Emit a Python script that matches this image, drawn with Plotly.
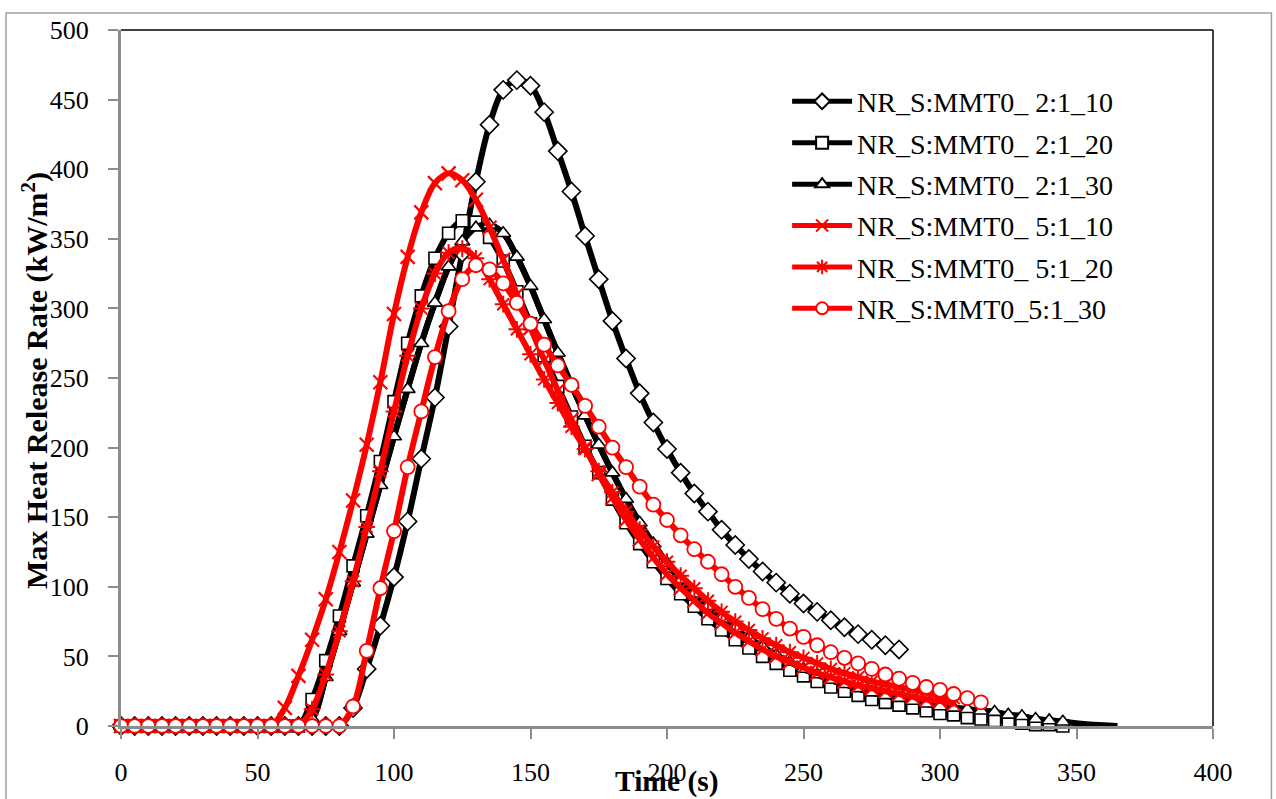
import plotly.graph_objects as go

# ---- data (time in s, HRR in kW/m2) ----
t_a = list(range(0, 290, 5))
hrr_a = [0]*17 + [13, 41, 72, 107, 147, 192, 236, 287, 340, 391, 432, 457, 464, 460, 441, 413, 384, 352,
                  321, 291, 264, 239, 218, 199, 182, 167, 154, 141, 130, 120, 111, 103, 95, 88, 82, 76,
                  71, 66, 62, 58, 55]

t_b = list(range(0, 350, 5))
hrr_b = [0]*14 + [19, 47, 79, 115, 151, 190, 233, 275, 309, 336, 354, 363, 362, 351, 334, 312, 289, 266,
                  244, 222, 201, 182, 163, 146, 131, 118, 106, 95, 86, 77, 69, 62, 56, 50, 45, 40, 36,
                  32, 28, 25, 22, 19, 17, 15, 13, 11, 9, 8, 6, 5, 4, 3, 2, 1, 1, 0]

t_c = list(range(0, 370, 5))
hrr_c = [0]*14 + [5, 35, 68, 103, 138, 173, 208, 242, 275, 304, 330, 348, 358, 360, 354, 337, 316, 292,
                  268, 245, 223, 202, 182, 163, 146, 131, 117, 105, 95, 86, 77, 70, 63, 57, 51, 46, 41,
                  37, 33, 30, 27, 24, 22, 20, 18, 16, 14, 13, 12, 11, 10, 8, 7, 5, 4, 3, 2, 1, 0.5, 0]
last_marker_c = 345

t_d = list(range(0, 310, 5))
hrr_d = [0]*12 + [13, 36, 62, 91, 125, 162, 202, 247, 296, 337, 369, 390, 397, 392, 378, 358, 335, 310,
                  286, 263, 241, 220, 200, 181, 164, 148, 134, 121, 109, 99, 90, 81, 74, 67, 61, 55, 50,
                  46, 42, 38, 35, 32, 29, 27, 25, 23, 21, 19, 18, 16]

t_e = list(range(0, 310, 5))
hrr_e = [0]*14 + [12, 37, 68, 104, 143, 183, 226, 266, 300, 325, 340, 343, 336, 321, 303, 285, 267, 249,
                  232, 215, 199, 183, 168, 154, 141, 129, 118, 108, 99, 90, 82, 75, 69, 63, 58, 53, 49,
                  45, 41, 38, 35, 32, 30, 28, 26, 24, 22, 20]

t_f = list(range(0, 320, 5))
hrr_f = [0]*17 + [14, 54, 99, 140, 186, 226, 265, 298, 321, 331, 328, 318, 304, 289, 274, 259, 245, 230,
                  215, 200, 186, 172, 159, 148, 137, 127, 118, 109, 100, 92, 84, 77, 70, 64, 58, 53, 49,
                  45, 41, 37, 34, 31, 28, 26, 23, 20, 17]

names = ["NR_S:MMT0_ 2:1_10", "NR_S:MMT0_ 2:1_20", "NR_S:MMT0_ 2:1_30",
         "NR_S:MMT0_ 5:1_10", "NR_S:MMT0_ 5:1_20", "NR_S:MMT0_5:1_30"]

x_ticks = [0, 50, 100, 150, 200, 250, 300, 350, 400]
y_ticks = [0, 50, 100, 150, 200, 250, 300, 350, 400, 450, 500]

FONT = "Liberation Serif"
BLACK = "#000000"
RED = "#FF0000"

series = [
    (t_a, hrr_a, BLACK, "diamond", "white", 14, 1.6),
    (t_b, hrr_b, BLACK, "square", "white", 12, 1.6),
    (t_c, hrr_c, BLACK, "triangle-up", "white", 13, 1.6),
    (t_d, hrr_d, RED, "x-thin", RED, 14, 2.2),
    (t_e, hrr_e, RED, "asterisk", RED, 14, 2.0),
    (t_f, hrr_f, RED, "circle", "white", 14, 1.8),
]

fig = go.Figure()
for i, (tt, yy, col, sym, fill, sz, lw) in enumerate(series):
    line = dict(color=col, width=6, shape="spline", smoothing=1.0)
    if i == 2:
        # the full curve continues past the last plotted marker
        fig.add_trace(go.Scatter(x=tt, y=yy, mode="lines", line=line, showlegend=False,
                                 hoverinfo="skip", cliponaxis=False))
        keep = [k for k, t in enumerate(tt) if t <= last_marker_c]
        tt = [tt[k] for k in keep]
        yy = [yy[k] for k in keep]
    fig.add_trace(go.Scatter(
        x=tt, y=yy, name=names[i], mode="lines+markers",
        line=line,
        marker=dict(symbol=sym, size=sz, color=fill,
                    line=dict(color=col, width=lw)),
        cliponaxis=False, legendgroup=f"g{i}",
    ))

L, R_, T, B = 121, 63, 29.5, 71
fig.update_layout(
    width=1276, height=799,
    margin=dict(l=L, r=R_, t=T, b=B),
    paper_bgcolor="white", plot_bgcolor="white",
    font=dict(family=FONT, size=26, color="black"),
    showlegend=True,
    legend=dict(x=0.610, y=0.933, xanchor="left", yanchor="top",
                bgcolor="rgba(0,0,0,0)", font=dict(family=FONT, size=28, color="black"),
                itemwidth=60, tracegroupgap=2, itemsizing="constant"),
    xaxis=dict(range=[0, 400], tickvals=x_ticks, showgrid=False, zeroline=False,
               showline=True, linecolor="#8c8c8c", linewidth=3,
               ticks="outside", ticklen=10, tickwidth=2, tickcolor="#8c8c8c",
               ticklabelstandoff=11, tickfont=dict(family=FONT, size=26, color="black")),
    yaxis=dict(range=[0, 500], tickvals=y_ticks, showgrid=False, zeroline=False,
               showline=True, linecolor="#8c8c8c", linewidth=3,
               ticks="outside", ticklen=10, tickwidth=2, tickcolor="#8c8c8c",
               ticklabelstandoff=14, tickfont=dict(family=FONT, size=26, color="black")),
    annotations=[
        dict(text="<b>Time (s)</b>", xref="paper", yref="paper", x=0.5, y=-0.08,
             xanchor="center", yanchor="middle", showarrow=False,
             font=dict(family=FONT, size=29.5, color="black")),
        dict(text="<b>Max Heat Release Rate (kW/m<sup>2</sup>)</b>", xref="paper", yref="paper",
             x=-0.0788, y=0.497, xanchor="center", yanchor="middle", textangle=-90,
             showarrow=False, font=dict(family=FONT, size=30, color="black")),
    ],
    shapes=[
        dict(type="line", xref="paper", yref="paper", x0=0, x1=1, y0=1, y1=1,
             line=dict(color="black", width=1.5)),
        dict(type="line", xref="paper", yref="paper", x0=1, x1=1, y0=0, y1=1,
             line=dict(color="black", width=1.5)),
        dict(type="rect", xref="paper", yref="paper", x0=-0.1053, x1=1.0535, y0=-0.12, y1=1.0243,
             line=dict(color="#a0a0a0", width=1.5), fillcolor="rgba(0,0,0,0)", layer="below"),
    ],
)

fig.write_html("out.html")
